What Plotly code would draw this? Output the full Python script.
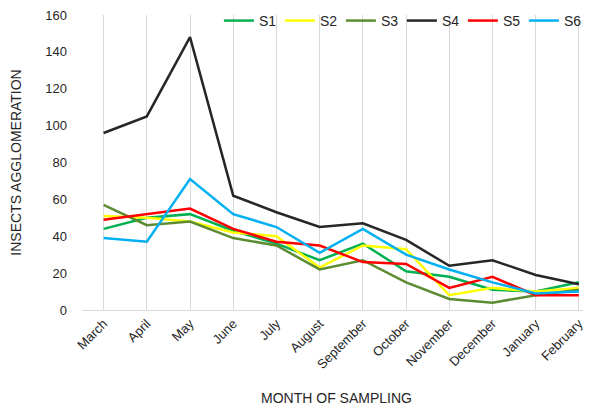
import plotly.graph_objects as go

months = ["March", "April", "May", "June", "July", "August", "September",
          "October", "November", "December", "January", "February"]
s1 = [44, 50, 52, 43, 36, 27, 36, 21, 18, 11, 10, 15]
s2 = [51, 50, 48, 42, 40, 23, 35, 33, 8, 12, 10, 12]
s3 = [57, 46, 48, 39, 35, 22, 27, 15, 6, 4, 8, 11]
s4 = [96, 105, 148, 62, 53, 45, 47, 38, 24, 27, 19, 14]
s5 = [49, 52, 55, 44, 37, 35, 26, 25, 12, 18, 8, 8]
s6 = [39, 37, 71, 52, 45, 31, 44, 30, 22, 15, 9, 10]

series = [("S1", s1, "#00B050"), ("S2", s2, "#FFFF00"), ("S3", s3, "#5B8C32"),
          ("S4", s4, "#262626"), ("S5", s5, "#FF0000"), ("S6", s6, "#00B0F0")]

fig = go.Figure()
for name, vals, col in series:
    fig.add_trace(go.Scatter(x=list(range(len(months))), y=vals, name=name, mode="lines",
                             line=dict(color=col, width=2.5)))

font = "Liberation Sans, Arial, sans-serif"
# page body has an 8px margin, so the figure is drawn 8px smaller and shifted
fig.update_layout(
    width=583, height=399,
    margin=dict(l=74, r=0, t=7, b=97, autoexpand=False),
    paper_bgcolor="white", plot_bgcolor="white",
    font=dict(family=font, size=13, color="#262626"),
    showlegend=True,
    legend=dict(orientation="h", x=0.988, xanchor="right", y=1.034, yanchor="top",
                bgcolor="rgba(0,0,0,0)", font=dict(size=14, color="#262626"),
                entrywidth=16, entrywidthmode="pixels", tracegroupgap=0),
    xaxis=dict(
        range=[-0.5, 11.28], tickmode="array", tickvals=list(range(len(months))),
        ticktext=months, tickangle=-45, showgrid=True, gridcolor="#D9D9D9", gridwidth=1,
        showline=True, linecolor="#D9D9D9", linewidth=1, zeroline=False, ticks="",
        tickfont=dict(size=13, color="#262626"), automargin=False,
        title=dict(text="MONTH OF SAMPLING", font=dict(size=14, color="#262626"), standoff=22),
    ),
    yaxis=dict(
        range=[0, 160], tickmode="array", tickvals=list(range(0, 161, 20)),
        showgrid=False, zeroline=False, showline=False, ticks="",
        tickfont=dict(size=13, color="#262626"), ticklabelstandoff=14, automargin=False,
        ticklabeloverflow="allow",
        title=dict(text="INSECTS AGGLOMERATION", font=dict(size=14, color="#262626"), standoff=27),
    ),
)

fig.write_html("out.html")
